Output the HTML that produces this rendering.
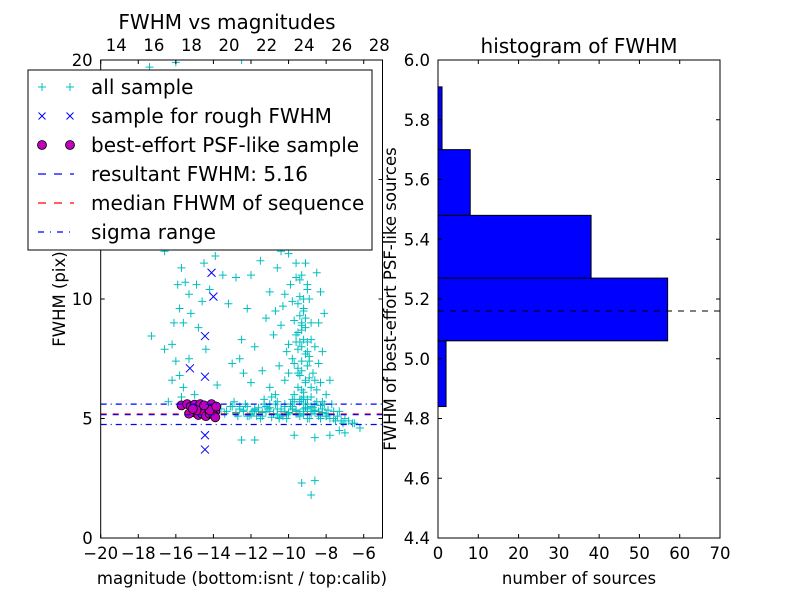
<!DOCTYPE html>
<html><head><meta charset="utf-8"><style>
body{margin:0;background:#fff}
svg{display:block;font-family:"DejaVu Sans","Liberation Sans",sans-serif}
</style></head><body>
<svg id="fig" width="800" height="600" viewBox="0 0 800 600">
<rect width="800" height="600" fill="#fff"/>
<g id="left"></g>
<g id="right"></g>
</svg>
<script>
// ---- scatter data ----
const allX=[-17.3,-16.6,-16.2,-15.9,-15.7,-15.5,-15.3,-15.8,-15.6,-15.2,-16.0,-15.8,-15.6,-15.7,-15.3,-14.8,-14.6,-14.5,-14.9,-14.2,-13.9,-13.5,-13.2,-12.8,-12.5,-12.3,-13.0,-15.9,-16.1,-15.0,-14.0,-15.4,-16.6,-12.0,-12.2,-12.6,-14.4,-13.8,-15.0,-16.2,-16.4,
-17.4,-16.0,-13.0,-12.5,-16,-14,-11,-10,-9.5,-12,-10.5,-9,
-11.2,-11.0,-10.8,-10.6,-10.5,-10.3,-10.2,-10.0,-10.0,-9.9,-9.8,-9.7,-9.6,-9.5,-9.5,-9.4,-9.3,-9.3,-9.2,-9.1,-9.0,-9.0,-8.9,-8.8,-8.7,-8.6,-8.5,-8.4,-8.3,-8.2,-8.0,-7.8,-8.1,-9.9,-10.4,-11.5,-11.8,-11.4,-11.0,-10.7,-12.0,-12.4,-9.7,-9.2,-8.8,-8.6,-9.0,-9.4,-10.1,-9.6,-9.8,-10.2,-9.3,-8.9,-9.1,-9.6,-10.4,-10.7,-8.4,-8.8,-9.5,-10.0,-8.5,-8.3,
-12.5,-11.8,-9.7,-8.6,-7.8,-7.0,-6.2,-6.6,-9.3,-8.8,-8.6,-7.3,
-13.6,-13.3,-13.0,-12.8,-12.6,-12.4,-12.2,-12.0,-11.8,-11.6,-11.4,-11.2,-11.0,-10.8,-10.6,-10.4,-10.2,-10.0,-9.8,-9.6,-9.4,-9.2,-9.0,-8.8,-8.6,-8.4,-8.2,-8.0,-7.8,-7.6,-7.4,-7.2,-7.0,-6.8,-6.5,
-13.4,-13.1,-12.7,-12.3,-11.9,-11.5,-11.1,-10.7,-10.3,-9.9,-9.5,-9.1,-8.7,-8.3,-7.9,-7.5,-7.1,
-12.9,-12.1,-11.3,-10.5,-9.7,-8.9,-8.1,-7.3,-10.9,-9.3,-8.5,-7.7,-11.7,-10.1,-9.0,-8.0,
-11.0,-10.6,-10.2,-9.8,-9.4,-9.0,-8.6,-8.2,-9.6,-9.2,-8.8,-8.4,
-9.5,-9.4,-9.3,-9.2,-9.1,-9.0,-9.4,-9.3,-9.2,-9.1,-9.5,-9.6,-9.3,-9.2,-9.0,-9.4,-9.1,-8.9,-9.3,-9.5,-9.2,-8.8,-9.4,-9.0,-9.7,-9.1,-9.3,-8.9,-9.6,-9.2,
-12.8,-12.4,-12.0,-11.6,-11.2,-10.8,-10.4,-10.0,-9.6,-9.2,-8.8,-8.4,-8.0,-12.6,-12.2,-11.8,-11.4,-11.0,-10.6,-10.2,-9.8,-9.4,-9.0,-8.6,-8.2,-7.6,-11.3,-10.5,-9.9,-9.1,-8.3,-7.9,-10.9,-10.1,-8.7];
const allY=[8.45,7.9,8.1,12.2,11.3,10.7,10.2,9.6,9.0,9.4,7.4,6.8,6.3,5.9,7.5,8.8,9.9,11.5,10.6,10.4,11.8,11.0,9.8,10.9,8.3,12.2,7.3,10.6,9.0,12.5,13.3,13.6,12.0,11.0,9.6,7.5,7.9,6.4,6.0,6.6,5.7,
19.7,19.9,19.2,20,15,14.5,16,17,15,13.5,13,13.8,
9.2,10.3,8.5,11.3,7.2,9.7,6.6,11.9,8.1,10.6,7.5,9.1,12.4,6.3,8.6,10.1,7.0,11.0,9.5,6.6,8.2,10.6,7.4,9.0,6.9,8.0,6.2,7.3,6.5,7.8,6.0,6.6,9.4,12.8,12.0,11.6,8.0,7.0,6.3,6.0,6.5,6.9,6.0,5.8,5.9,6.6,7.8,8.2,7.8,10.9,9.9,10.2,8.9,10.0,11.5,11.5,8.9,9.5,9.0,8.3,7.1,6.9,11.1,10.3,
4.1,4.1,4.3,4.2,4.3,4.4,4.6,4.8,2.3,1.8,2.4,4.5,
5.4,5.3,5.5,5.2,5.4,5.3,5.5,5.2,5.4,5.3,5.1,5.5,5.3,5.2,5.4,5.3,5.5,5.2,5.4,5.3,5.1,5.4,5.2,5.5,5.3,5.1,5.4,5.2,5.0,5.3,5.1,4.9,5.0,4.9,4.8,
5.2,5.5,5.1,5.6,5.3,5.0,5.4,5.6,5.1,5.5,5.2,5.6,5.3,5.0,5.2,4.9,4.8,
5.7,5.1,5.8,5.0,5.7,5.0,5.6,5.3,5.9,5.8,5.7,5.6,5.1,5.0,5.0,5.1,
5.6,5.7,5.6,5.8,5.7,5.8,5.6,5.7,5.2,5.3,5.2,5.3,
9.8,9.3,8.7,8.3,7.7,7.2,6.8,6.2,5.9,6.5,7.9,8.5,9.0,9.6,10.4,10.8,8.8,7.6,7.4,6.9,6.1,6.3,5.8,5.6,7.3,9.2,8.0,6.7,8.2,10.0,
5.25,5.35,5.15,5.45,5.3,5.2,5.4,5.25,5.35,5.15,5.3,5.2,5.1,5.5,5.1,5.35,5.25,5.45,5.15,5.3,5.5,5.2,5.4,5.35,5.25,5.0,5.6,5.05,5.6,5.45,5.55,5.35,5.05,5.15,5.45];
const roughX=[-14.1,-14.0,-14.45,-15.25,-14.45,-14.45,-14.45];
const roughY=[11.1,10.1,8.45,7.1,6.75,4.3,3.7];
const psfX=[-15.7,-15.4,-15.2,-15.0,-14.8,-14.7,-14.5,-14.3,-14.1,-14.0,-13.9,-15.0,-14.8,-14.6,-14.4,-14.2,-14.0,-13.9,-15.3,-14.9,-14.2,-13.85,-14.5,-15.1];
const psfY=[5.55,5.6,5.5,5.58,5.45,5.6,5.35,5.5,5.6,5.4,5.3,5.25,5.15,5.2,5.1,5.2,5.15,5.05,5.2,5.35,5.35,5.5,5.55,5.4];
const resultFWHM=5.16, medianFWHM=5.19, sigmaLow=4.75, sigmaHigh=5.6;
const botTicks=[-20,-18,-16,-14,-12,-10,-8,-6];
const topTicks=[14,16,18,20,22,24,26,28];
const yTicksL=[0,5,10,15,20];
const calibOffset=33.17;
// ---- histogram data ----
const binEdges=[4.84,5.06,5.27,5.48,5.70,5.91];
const binCounts=[2,57,38,8,1];
const xTicksR=[0,10,20,30,40,50,60,70];
const yTicksR=[4.4,4.6,4.8,5.0,5.2,5.4,5.6,5.8,6.0];

const FS=16.5, FT=20;
const NS='http://www.w3.org/2000/svg';
function mk(parent,tag,attrs,text){const e=document.createElementNS(NS,tag);for(const k in attrs)e.setAttribute(k,attrs[k]);if(text!==undefined)e.textContent=text;parent.appendChild(e);return e;}
const L=document.getElementById('left'),R=document.getElementById('right');
const lx0=100.7,lx1=382.5,ly0=538,ly1=60;
const sx=v=>lx0+(v+20)*(lx1-lx0)/15;
const sy=v=>ly0-(v/20)*(ly0-ly1);
const defs=mk(L,'defs',{});
const cp=mk(defs,'clipPath',{id:'clipL'});mk(cp,'rect',{x:lx0,y:ly1,width:lx1-lx0,height:ly0-ly1});
const plot=mk(L,'g',{'clip-path':'url(#clipL)'});


for(let i=0;i<allX.length;i++){const x=sx(allX[i]),y=sy(allY[i]);
 const p=mk(plot,'path',{d:`M${x-4} ${y}H${x+4}M${x} ${y-4}V${y+4}`,stroke:'#00bfbf','stroke-width':1});
 
 }
for(let i=0;i<roughX.length;i++){const x=sx(roughX[i]),y=sy(roughY[i]);
 const p=mk(plot,'path',{d:`M${x-4} ${y-4}L${x+4} ${y+4}M${x-4} ${y+4}L${x+4} ${y-4}`,stroke:'#0000ff','stroke-width':1});
 
 }
for(let i=0;i<psfX.length;i++){
 const c=mk(plot,'circle',{cx:sx(psfX[i]),cy:sy(psfY[i]),r:4.5,fill:'#bf00bf',stroke:'#000','stroke-width':0.8});
 
 }
function hline(v,col,dash,name){const l=mk(plot,'line',{x1:lx0,x2:lx1,y1:sy(v),y2:sy(v),stroke:col,'stroke-width':1.2,'stroke-dasharray':dash});
 
 }
hline(medianFWHM,'#ff0000','6 6','median-fwhm-line');
hline(resultFWHM,'#0000ff','6 6','resultant-fwhm-line');
hline(sigmaHigh,'#0000ff','6 4 1 4','sigma-high-line');
hline(sigmaLow,'#0000ff','6 4 1 4','sigma-low-line');
mk(L,'rect',{x:lx0,y:ly1,width:lx1-lx0,height:ly0-ly1,fill:'none',stroke:'#000','stroke-width':1});
botTicks.forEach(t=>{const x=sx(t);mk(L,'path',{d:`M${x} ${ly0}v-4M${x} ${ly1}v4`,stroke:'#000'});
 const tx=mk(L,'text',{x:x,y:ly0+21,'font-size':FS,'text-anchor':'middle'},'\u2212'+Math.abs(t));
 
 });
topTicks.forEach(t=>{const x=sx(t-calibOffset);
 const tx=mk(L,'text',{x:x,y:ly1-9,'font-size':FS,'text-anchor':'middle'},String(t));
 
 });
yTicksL.forEach(t=>{const y=sy(t);mk(L,'path',{d:`M${lx0} ${y}h4M${lx1} ${y}h-4`,stroke:'#000'});
 const tx=mk(L,'text',{x:lx0-8,y:y+6,'font-size':FS,'text-anchor':'end'},String(t));
 
 });
mk(L,'text',{x:227,y:29,'font-size':FT,'text-anchor':'middle',},'FWHM vs magnitudes');
mk(L,'text',{x:242,y:584,'font-size':FS,'text-anchor':'middle',},'magnitude (bottom:isnt / top:calib)');
mk(L,'text',{x:65,y:299,'font-size':FS,'text-anchor':'middle',transform:'rotate(-90 65 299)',},'FWHM (pix)');
const lg=mk(L,'g',{});
mk(lg,'rect',{x:28,y:70,width:344,height:180,fill:'#fff',stroke:'#000','stroke-width':1});
const labels=['all sample','sample for rough FWHM','best-effort PSF-like sample','resultant FWHM: 5.16','median FHWM of sequence','sigma range'];
labels.forEach((s,i)=>{const y=87+i*29;
 const tx=mk(lg,'text',{x:91,y:y+7,'font-size':FT},s);
 
 
 [42,70].forEach(x=>{
  if(i==0)mk(lg,'path',{d:`M${x-4} ${y}h8M${x} ${y-4}v8`,stroke:'#00bfbf'});
  if(i==1)mk(lg,'path',{d:`M${x-3.5} ${y-3.5}l7 7M${x-3.5} ${y+3.5}l7 -7`,stroke:'#0000ff'});
  if(i==2)mk(lg,'circle',{cx:x,cy:y,r:4.5,fill:'#bf00bf',stroke:'#000','stroke-width':0.8});});
 if(i>=3){const col=i==4?'#ff0000':'#0000ff';mk(lg,'line',{x1:38,x2:74,y1:y,y2:y,stroke:col,'stroke-width':1.2,'stroke-dasharray':i==5?'6 6 1 6':'8 8'});}
});
const rx0=438,rx1=720,ry0=538,ry1=60;
const hx=v=>rx0+v*(rx1-rx0)/70;
const hy=v=>ry0-(v-4.4)*(ry0-ry1)/1.6;
binCounts.forEach((c,i)=>{const yT=hy(binEdges[i+1]),yB=hy(binEdges[i]);
 const b=mk(R,'rect',{x:hx(0),y:yT,width:hx(c)-hx(0),height:yB-yT,fill:'#0000ff',stroke:'#000','stroke-width':1});
 
 });
mk(R,'line',{x1:rx0,x2:rx1,y1:hy(resultFWHM),y2:hy(resultFWHM),stroke:'#000','stroke-width':1,'stroke-dasharray':'6 6',});
mk(R,'rect',{x:rx0,y:ry1,width:rx1-rx0,height:ry0-ry1,fill:'none',stroke:'#000'});
xTicksR.forEach(t=>{const x=hx(t);mk(R,'path',{d:`M${x} ${ry0}v-4M${x} ${ry1}v4`,stroke:'#000'});
 const tx=mk(R,'text',{x:x,y:ry0+21,'font-size':FS,'text-anchor':'middle'},String(t));
 
 });
yTicksR.forEach(t=>{const y=hy(t);mk(R,'path',{d:`M${rx0} ${y}h4M${rx1} ${y}h-4`,stroke:'#000'});
 const tx=mk(R,'text',{x:rx0-8,y:y+6,'font-size':FS,'text-anchor':'end'},t.toFixed(1));
 
 });
mk(R,'text',{x:579,y:53,'font-size':FT,'text-anchor':'middle',},'histogram of FWHM');
mk(R,'text',{x:579,y:584,'font-size':FS,'text-anchor':'middle',},'number of sources');
mk(R,'text',{x:396,y:299,'font-size':FS,'text-anchor':'middle',transform:'rotate(-90 396 299)',},'FWHM of best-effort PSF-like sources');
</script>
</body></html>
